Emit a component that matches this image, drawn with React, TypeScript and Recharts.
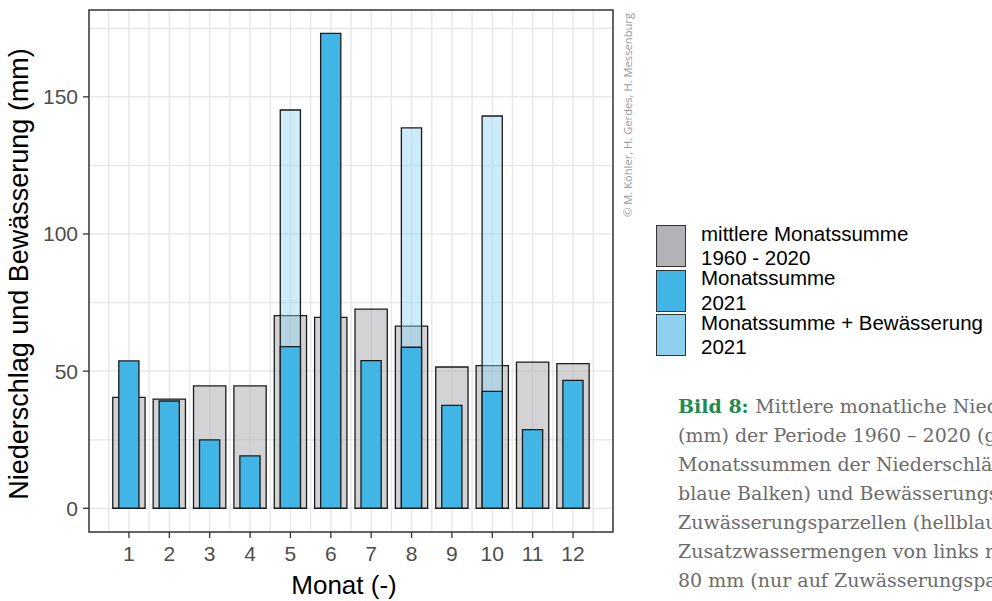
import React from 'react';
import {
  ComposedChart,
  Bar,
  XAxis,
  YAxis,
  CartesianGrid,
  Legend,
  ReferenceArea
} from 'recharts';

const months = [1, 2, 3, 4, 5, 6, 7, 8, 9, 10, 11, 12];
// mittlere Monatssumme 1960 - 2020 (grau)
const meanSum = [40.4, 39.8, 44.6, 44.6, 70.2, 69.6, 72.6, 66.4, 51.5, 52.0, 53.3, 52.7];
// Monatssumme 2021 (blau)
const sum2021 = [53.7, 39.1, 24.9, 19.1, 58.9, 173.1, 53.8, 58.7, 37.5, 42.6, 28.7, 46.6];
// Monatssumme + Bewässerung 2021 (hellblau), nur Monate mit Zuwässerung
const sumIrrigated = [null, null, null, null, 145.2, null, null, 138.7, null, 143.0, null, null];

const yTicks = [0, 50, 100, 150];
const yGrid = [0, 25, 50, 75, 100, 125, 150, 175];
const xGrid = [0.5, 1, 1.5, 2, 2.5, 3, 3.5, 4, 4.5, 5, 5.5, 6, 6.5, 7, 7.5, 8, 8.5, 9, 9.5, 10, 10.5, 11, 11.5, 12, 12.5];

const xDomain: [number, number] = [0.01, 12.99];
const yDomain: [number, number] = [-8.65, 181.65];

const captionLines = [
  'Mittlere monatliche Niederschlagssummen',
  '(mm) der Periode 1960 – 2020 (grau)',
  'Monatssummen der Niederschläge',
  'blaue Balken) und Bewässerungsmengen',
  'Zuwässerungsparzellen (hellblaue',
  'Zusatzwassermengen von links nach',
  '80 mm (nur auf Zuwässerungsparzellen)'
];

const data = months.map((m, i) => ({
  month: m,
  mean: meanSum[i],
  sum: sum2021[i],
  irrigated: sumIrrigated[i]
}));

const W = 992;
const H = 601;
const plotLeft = 89;
const plotRight = 613;
const plotTop = 10;
const plotBottom = 532;
const unit = (plotRight - plotLeft) / (xDomain[1] - xDomain[0]);

const SANS = "'Liberation Sans', Arial, sans-serif";
const legendOrder = ['mean', 'sum', 'irrigated'];

const renderLegend = (props: any) => {
  const items = [...(props.payload || [])].sort(
    (a: any, b: any) => legendOrder.indexOf(a.dataKey) - legendOrder.indexOf(b.dataKey)
  );
  return (
    <div style={{ fontFamily: SANS, fontSize: 20.5, color: '#000' }}>
      {items.map((it: any) => (
        <div key={it.dataKey} style={{ display: 'flex', alignItems: 'center', height: 44.5 }}>
          <div
            style={{
              width: 28,
              height: 40,
              background: it.color,
              border: '1.3px solid #333',
              flex: 'none'
            }}
          />
          <div style={{ marginLeft: 15, whiteSpace: 'nowrap' }}>
            {String(it.value).split('\n').map((l: string, k: number) => (
              <div key={k} style={{ lineHeight: '20px', marginTop: k > 0 ? 4.3 : 0 }}>{l}</div>
            ))}
          </div>
        </div>
      ))}
    </div>
  );
};

const renderYLabel = (props: any) => {
  const vb = props.viewBox;
  const cx = 27.5;
  const cy = vb.y + vb.height / 2 + 3;
  return (
    <text x={cx} y={cy} transform={`rotate(-90, ${cx}, ${cy})`} textAnchor="middle"
      fontSize={27} fill="#000" fontFamily={SANS}>
      Niederschlag und Bewässerung (mm)
    </text>
  );
};

const renderXLabel = (props: any) => {
  const vb = props.viewBox;
  return (
    <text x={vb.x + vb.width / 2 - 7} y={vb.y + 62} textAnchor="middle"
      fontSize={26} fill="#000" fontFamily={SANS}>
      Monat (-)
    </text>
  );
};

const tickStyle = { fill: '#4d4d4d', fontSize: 21, fontFamily: SANS };
const tickLineStyle = { stroke: '#333', strokeWidth: 1.3 };

const App: React.FC = () => {
  return (
    <div style={{ position: 'absolute', left: 0, top: 0, width: W, height: H, overflow: 'hidden', background: '#fff' }}>
      <ComposedChart
        width={W}
        height={H}
        data={data}
        margin={{ top: plotTop, right: W - plotRight, bottom: 0, left: 0 }}
      >
        <CartesianGrid
          xAxisId="main"
          horizontalValues={yGrid}
          verticalValues={xGrid}
          stroke="#e9e9ec"
          strokeWidth={1.5}
        />
        <XAxis
          xAxisId="main"
          dataKey="month"
          type="number"
          domain={xDomain}
          allowDataOverflow
          ticks={months}
          interval={0}
          height={H - plotBottom}
          tick={tickStyle}
          tickLine={tickLineStyle}
          tickSize={6}
          tickMargin={8}
          axisLine={false}
          label={{ value: 'Monat (-)', content: renderXLabel }}
        />
        <XAxis xAxisId="mid" dataKey="month" type="number" domain={xDomain} allowDataOverflow ticks={months} height={0} hide />
        <XAxis xAxisId="front" dataKey="month" type="number" domain={xDomain} allowDataOverflow ticks={months} height={0} hide />
        <YAxis
          type="number"
          domain={yDomain}
          allowDataOverflow
          ticks={yTicks}
          interval={0}
          width={plotLeft}
          tick={tickStyle}
          tickLine={tickLineStyle}
          tickSize={6}
          tickMargin={5}
          axisLine={false}
          label={{ value: 'Niederschlag und Bewässerung (mm)', content: renderYLabel }}
        />
        <Bar
          xAxisId="main"
          dataKey="mean"
          name={'mittlere Monatssumme\n1960 - 2020'}
          fill="#b3b3b7"
          fillOpacity={0.58}
          stroke="#1a1a1a"
          strokeWidth={1.3}
          barSize={0.8 * unit}
          isAnimationActive={false}
        />
        <Bar
          xAxisId="mid"
          dataKey="irrigated"
          name={'Monatssumme + Bewässerung\n2021'}
          fill="#8ed0f0"
          fillOpacity={0.43}
          stroke="#1a1a1a"
          strokeWidth={1.3}
          barSize={0.5 * unit}
          isAnimationActive={false}
        />
        <Bar
          xAxisId="front"
          dataKey="sum"
          name={'Monatssumme\n2021'}
          fill="#41b6e6"
          stroke="#1a1a1a"
          strokeWidth={1.3}
          barSize={0.5 * unit}
          isAnimationActive={false}
        />
        <ReferenceArea
          xAxisId="main"
          x1={xDomain[0]}
          x2={xDomain[1]}
          y1={yDomain[0]}
          y2={yDomain[1]}
          fill="none"
          stroke="#333"
          strokeWidth={1.5}
          ifOverflow="visible"
        />
        <Legend
          layout="vertical"
          align="center"
          verticalAlign="middle"
          content={renderLegend}
          wrapperStyle={{ left: 656, top: 223.75, width: 336 }}
        />
      </ComposedChart>
      <div
        style={{
          position: 'absolute',
          left: 627,
          top: 115,
          transform: 'translate(-50%, -50%) rotate(-90deg)',
          whiteSpace: 'nowrap',
          fontFamily: "'Open Sans', sans-serif",
          fontSize: 11.2,
          color: '#9a9a9a'
        }}
      >
        © M. Köhler, H. Gerdes, H. Messenburg
      </div>
      <div
        style={{
          position: 'absolute',
          left: 678,
          top: 392,
          fontFamily: "'DejaVu Serif', serif",
          fontSize: 19,
          lineHeight: '29px',
          color: '#6b6b6b',
          whiteSpace: 'nowrap'
        }}
      >
        {captionLines.map((l, i) => (
          <div key={i}>
            {i === 0 && <span style={{ color: '#1d8c4e', fontWeight: 'bold' }}>Bild 8: </span>}
            {l}
          </div>
        ))}
      </div>
    </div>
  );
};

export default App;
